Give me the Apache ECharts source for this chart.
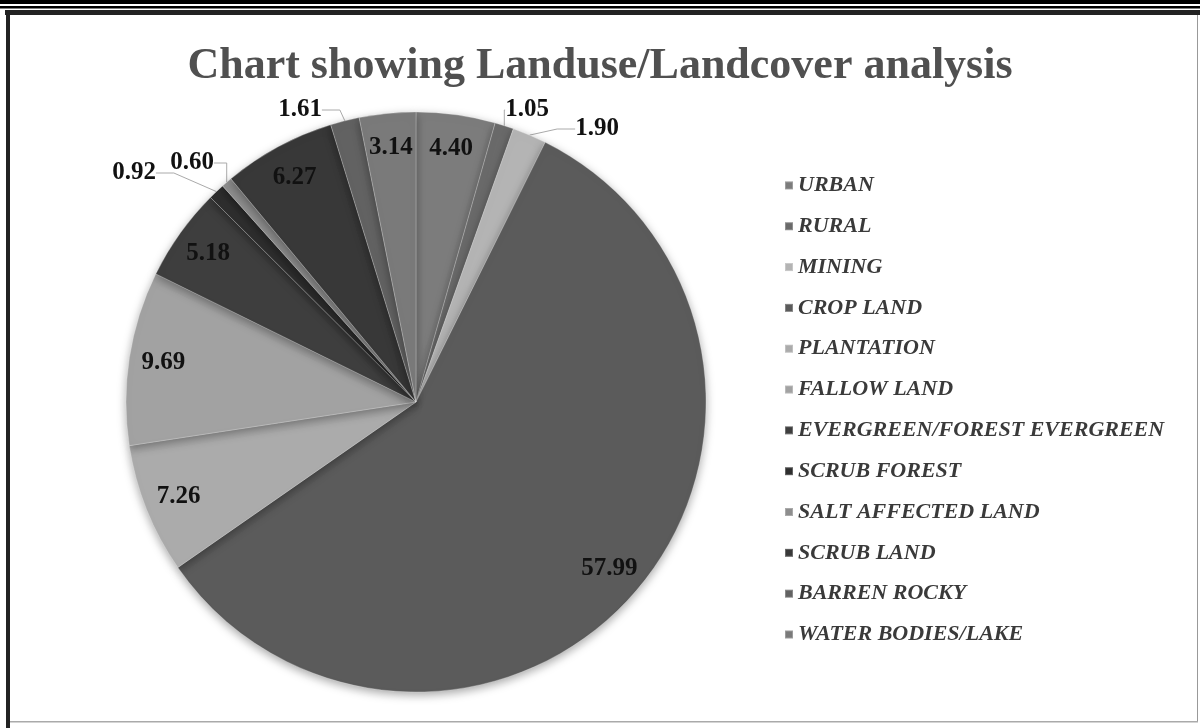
<!DOCTYPE html>
<html>
<head>
    <title>Landuse/Landcover</title>
    <script src="https://cdn.jsdelivr.net/npm/echarts@6/dist/echarts.min.js"></script>
    <style>
        html, body { margin: 0; padding: 0; background: #fff; }
        #chart { width: 1200px; height: 728px; }
    </style>
</head>
<body>
    <div id="chart"></div>
    <script>
    // land classes, in legend order
    const classes = ['URBAN', 'RURAL', 'MINING', 'CROP LAND', 'PLANTATION', 'FALLOW LAND',
        'EVERGREEN/FOREST EVERGREEN', 'SCRUB FOREST', 'SALT AFFECTED LAND', 'SCRUB LAND',
        'BARREN ROCKY', 'WATER BODIES/LAKE'];
    const shares = [4.40, 1.05, 1.90, 57.99, 7.26, 9.69, 5.18, 0.92, 0.60, 6.27, 1.61, 3.14];
    const greys = ['#7c7c7c', '#6a6a6a', '#b4b4b4', '#5b5b5b', '#ababab', '#a2a2a2',
        '#3e3e3e', '#2e2e2e', '#8e8e8e', '#383838', '#626262', '#7a7a7a'];
    // slices too thin for a label inside
    const thin = ['RURAL', 'MINING', 'SCRUB FOREST', 'SALT AFFECTED LAND', 'BARREN ROCKY'];
    // where the outside labels sit in the original (label centre)
    const outsideSpots = {
        'RURAL': [527, 110],
        'MINING': [597, 129],
        'SCRUB FOREST': [134, 173],
        'SALT AFFECTED LAND': [192, 163],
        'BARREN ROCKY': [300, 110]
    };

    const labelFont = {
        fontFamily: 'Liberation Serif',
        fontSize: 25,
        fontWeight: 'bold',
        color: '#111'
    };

    const chart = echarts.init(document.getElementById('chart'));

    const mainData = classes.map((c, i) => ({
        name: c,
        value: shares[i],
        itemStyle: { color: greys[i] },
        label: thin.includes(c)
            ? { show: true, position: 'outside', formatter: p => p.value.toFixed(2) }
            : { show: false },
        labelLine: { show: thin.includes(c) }
    }));

    // transparent ring, only to put the inner labels near the rim
    const labelData = classes.map((c, i) => ({
        name: c,
        value: shares[i],
        label: { show: !thin.includes(c) }
    }));

    chart.setOption({
        animation: false,
        backgroundColor: '#fff',
        title: {
            text: 'Chart showing Landuse/Landcover analysis',
            left: 'center',
            top: 27,
            textStyle: {
                fontFamily: 'Liberation Serif',
                fontSize: 44,
                fontWeight: 'bold',
                color: '#505050'
            }
        },
        legend: {
            orient: 'vertical',
            left: 784,
            top: 168,
            padding: 0,
            icon: 'rect',
            itemWidth: 8,
            itemHeight: 8,
            itemGap: 6,
            data: classes,
            textStyle: {
                fontFamily: 'Liberation Serif',
                fontSize: 22,
                fontStyle: 'italic',
                fontWeight: 'bold',
                color: '#3a3a3a',
                lineHeight: 22
            }
        },
        graphic: [
            { type: 'rect', shape: { x: 0, y: 0, width: 1200, height: 4 }, style: { fill: '#000' } },
            { type: 'rect', shape: { x: 0, y: 6, width: 1200, height: 2.5 }, style: { fill: '#000' } },
            { type: 'rect', shape: { x: 5, y: 10, width: 1195, height: 5 }, style: { fill: '#222' } },
            { type: 'rect', shape: { x: 6, y: 10, width: 4, height: 718 }, style: { fill: '#222' } },
            { type: 'rect', shape: { x: 1197, y: 15, width: 1, height: 707 }, style: { fill: '#999' } },
            { type: 'rect', shape: { x: 10, y: 721, width: 1188, height: 1.5 }, style: { fill: '#aaa' } }
        ],
        series: [
            {
                type: 'pie',
                center: [416, 402],
                radius: [0, 290],
                startAngle: 90,
                clockwise: true,
                avoidLabelOverlap: false,
                itemStyle: {
                    borderColor: 'rgba(255,255,255,0.25)',
                    borderWidth: 1,
                    shadowColor: 'rgba(0,0,0,0.35)',
                    shadowBlur: 10,
                    shadowOffsetY: 3
                },
                label: labelFont,
                labelLine: {
                    length: 8,
                    length2: 18,
                    lineStyle: { color: '#aaa', width: 1 }
                },
                labelLayout: params => {
                    const spot = outsideSpots[classes[params.dataIndex]];
                    if (!spot) return {};
                    return { x: spot[0], y: spot[1], align: 'center', verticalAlign: 'middle' };
                },
                emphasis: { disabled: true },
                data: mainData
            },
            {
                type: 'pie',
                center: [416, 402],
                radius: [215, 290],
                startAngle: 90,
                clockwise: true,
                silent: true,
                legendHoverLink: false,
                itemStyle: { color: 'transparent', shadowBlur: 0 },
                label: Object.assign({ position: 'inside', formatter: p => p.value.toFixed(2) }, labelFont),
                labelLine: { show: false },
                emphasis: { disabled: true },
                data: labelData
            }
        ]
    });
    </script>
</body>
</html>
